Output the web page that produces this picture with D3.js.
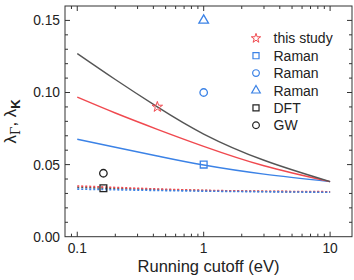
<!DOCTYPE html>
<html>
<head>
<meta charset="utf-8">
<script src="https://cdn.jsdelivr.net/npm/d3@7"></script>
<style>
  body { margin: 0; background: #fff; }
  svg { display: block; font-family: "Liberation Sans", Arial, sans-serif; }
</style>
</head>
<body>
<svg id="vis" width="354" height="280"></svg>
<script>
// values
const cutoff = [0.1, 0.2, 0.43, 1, 3, 10];
const lambdaGray = [0.127, 0.109, 0.090, 0.0712, 0.0530, 0.0382];
const lambdaRed = [0.0968, 0.0858, 0.0745, 0.0627, 0.0492, 0.0382];
const lambdaBlue = [0.0676, 0.0620, 0.0560, 0.0497, 0.0434, 0.0382];

const cutoffDash = [0.1, 1, 10];
const dashGray = [0.0342, 0.0320, 0.0310];
const dashRed = [0.0352, 0.0322, 0.0312];
const dashBlue = [0.0330, 0.0316, 0.0308];

const pointNames = ["this study", "Raman", "Raman", "Raman", "DFT", "GW"];
const pointX = [0.43, 1, 1, 1, 0.161, 0.161];
const pointY = [0.090, 0.050, 0.100, 0.150, 0.0336, 0.044];
const pointShape = ["star", "square", "circle", "triangle", "square", "circle"];
const pointColor = ["#f0494f", "#3b82e6", "#3b82e6", "#3b82e6", "#222", "#222"];

const xTicks = [0.1, 1, 10];
const yTicks = [0, 0.05, 0.10, 0.15];

const margin = { left: 65, right: 2, top: 6, bottom: 43.3 };
const width = 354, height = 280;

const svg = d3.select("#vis");

const x = d3.scaleLog()
  .domain([0.08, 14.9])
  .range([margin.left, width - margin.right]);
const y = d3.scaleLinear()
  .domain([0, 0.16])
  .range([height - margin.bottom, margin.top]);

const symbolType = {
  star: d3.symbolStar,
  square: d3.symbolSquare,
  circle: d3.symbolCircle,
  triangle: d3.symbolTriangle
};
const symbolSize = { star: 34, square: 46, circle: 44, triangle: 40 };

// curves
const line = d3.line()
  .x((d) => x(d[0]))
  .y((d) => y(d[1]))
  .curve(d3.curveNatural);

const curves = [
  { v: lambdaBlue, color: "#3b82e6" },
  { v: lambdaRed, color: "#f0494f" },
  { v: lambdaGray, color: "#555" }
];
curves.forEach((c) => {
  svg.append("path")
    .attr("d", line(cutoff.map((cx, i) => [cx, c.v[i]])))
    .attr("fill", "none")
    .attr("stroke", c.color)
    .attr("stroke-width", 1.4);
});

const dashes = [
  { v: dashGray, color: "#555" },
  { v: dashRed, color: "#f0494f" },
  { v: dashBlue, color: "#3b82e6" }
];
dashes.forEach((c) => {
  svg.append("path")
    .attr("d", line(cutoffDash.map((cx, i) => [cx, c.v[i]])))
    .attr("fill", "none")
    .attr("stroke", c.color)
    .attr("stroke-width", 1.6)
    .attr("stroke-dasharray", "2,2");
});

// frame and ticks
const plot = svg.append("g").attr("stroke", "#333").attr("fill", "none");
plot.append("rect")
  .attr("x", margin.left)
  .attr("y", margin.top)
  .attr("width", width - margin.left - margin.right)
  .attr("height", height - margin.top - margin.bottom);

const y0 = y.range()[0], y1 = y.range()[1];
const x0 = x.range()[0], x1 = x.range()[1];

x.ticks().forEach((t) => {
  const major = xTicks.some((m) => Math.abs(m - t) < 1e-9);
  const len = major ? 5 : 3;
  const px = x(t);
  if (px <= x0 + 0.5 || px >= x1 - 0.5) return;
  plot.append("line").attr("x1", px).attr("x2", px).attr("y1", y0).attr("y2", y0 - len);
  plot.append("line").attr("x1", px).attr("x2", px).attr("y1", y1).attr("y2", y1 + len);
});

d3.range(1, 16).forEach((k) => {
  const t = k / 100;
  const major = k % 5 === 0;
  const len = major ? 5 : 3;
  const py = y(t);
  plot.append("line").attr("x1", x0).attr("x2", x0 + len).attr("y1", py).attr("y2", py);
  plot.append("line").attr("x1", x1).attr("x2", x1 - len).attr("y1", py).attr("y2", py);
});

// tick labels
svg.append("g")
  .attr("font-size", 13.8)
  .attr("fill", "#222")
  .attr("text-anchor", "middle")
  .selectAll("text")
  .data(xTicks)
  .join("text")
  .attr("x", (d) => x(d))
  .attr("y", 253)
  .text((d) => d3.format("~g")(d));

svg.append("g")
  .attr("font-size", 13.8)
  .attr("fill", "#222")
  .attr("text-anchor", "end")
  .selectAll("text")
  .data(yTicks)
  .join("text")
  .attr("x", 60)
  .attr("y", (d) => y(d))
  .attr("dy", "0.36em")
  .text((d) => d3.format(".2f")(d));

// axis titles
svg.append("text")
  .attr("x", (x0 + x1) / 2)
  .attr("y", 271.5)
  .attr("text-anchor", "middle")
  .attr("font-size", 16.5)
  .attr("fill", "#222")
  .text("Running cutoff (eV)");

const ylab = svg.append("text")
  .attr("transform", `translate(16,${(y0 + y1) / 2}) rotate(-90)`)
  .attr("text-anchor", "middle")
  .attr("font-size", 17)
  .attr("fill", "#222");
ylab.append("tspan").text("λ");
ylab.append("tspan").attr("font-size", 12).attr("font-family", "'DejaVu Serif', serif")
  .attr("dy", 4).text("Γ");
ylab.append("tspan").attr("dy", -4).text(", λ");
ylab.append("tspan").attr("font-size", 13).attr("font-weight", "bold")
  .attr("dy", 4).text("K");

// data points
const pointSymbol = (shape, scale) =>
  d3.symbol().type(symbolType[shape]).size(symbolSize[shape] * scale)();

svg.append("g")
  .selectAll("path")
  .data(pointNames.map((n, i) => i))
  .join("path")
  .attr("transform", (i) => `translate(${x(pointX[i])},${y(pointY[i])})`)
  .attr("d", (i) => pointSymbol(pointShape[i], 1))
  .attr("fill", "none")
  .attr("stroke", (i) => pointColor[i])
  .attr("stroke-width", (i) => pointShape[i] === "star" ? 1 : 1.3);

// legend
const legend = svg.append("g").attr("font-size", 14).attr("fill", "#222");
pointNames.forEach((name, i) => {
  const ly = 38.3 + i * 17.4;
  legend.append("path")
    .attr("transform", `translate(256,${ly})`)
    .attr("d", pointSymbol(pointShape[i], 0.8))
    .attr("fill", "none")
    .attr("stroke", pointColor[i])
    .attr("stroke-width", pointShape[i] === "star" ? 1 : 1.2);
  legend.append("text")
    .attr("x", 273.5)
    .attr("y", ly)
    .attr("dy", "0.36em")
    .text(name);
});
</script>
</body>
</html>
